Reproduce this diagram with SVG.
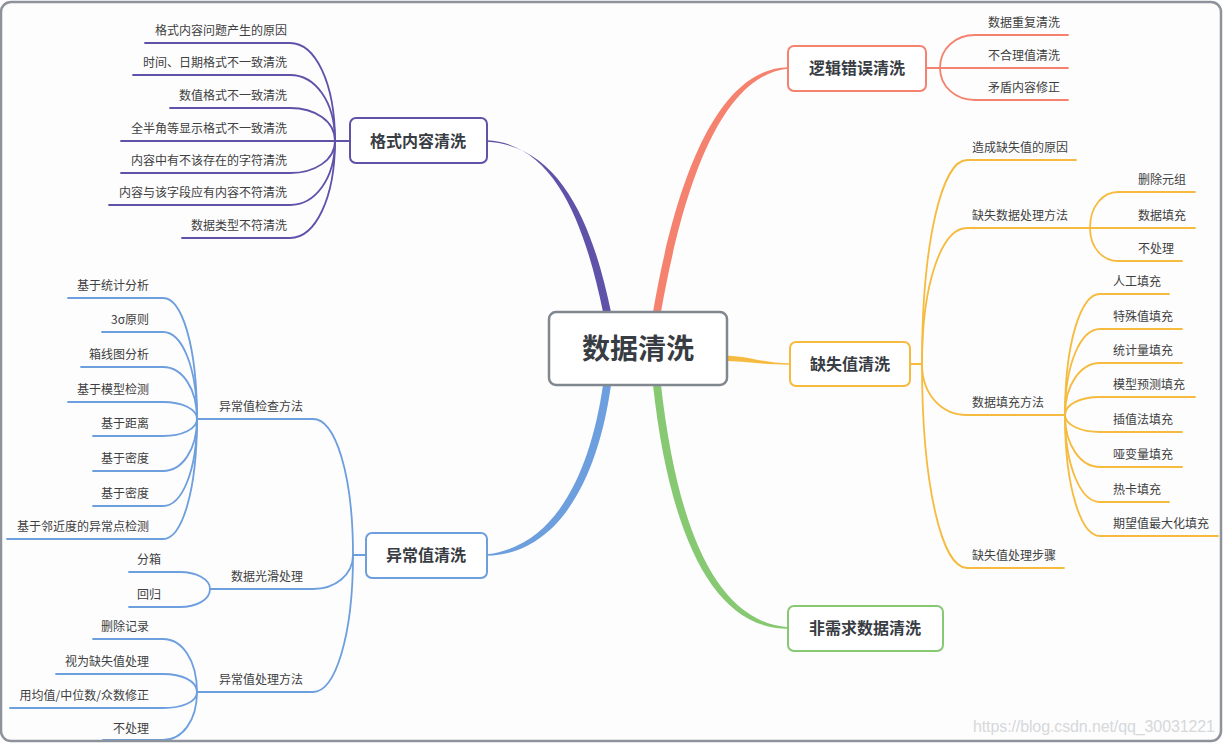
<svg xmlns="http://www.w3.org/2000/svg" width="1224" height="744" viewBox="0 0 1224 744">
<style>
.t{font-family:"Noto Sans CJK SC","Noto Sans",sans-serif;font-size:12px;fill:#404040}
.e{text-anchor:end}
.m{font-family:"Noto Sans CJK SC","Noto Sans",sans-serif;font-size:16px;font-weight:bold;fill:#383c43;text-anchor:middle}
.box{fill:#fff;stroke-width:2}
.c{fill:none;stroke-width:1.8;stroke-linecap:round}
.pu{stroke:#5f52a9}.rd{stroke:#f5826f}.or{stroke:#f6bb3e}.bl{stroke:#6d9edd}.gr{stroke:#87c872}
</style>
<rect x="1" y="2" width="1220" height="739" rx="10" fill="#fdfdfe"/>
<g id="connectors">
<path d="M603,312 C586,230 557,144 487,140.25 L487,141.75 C563,146 594,230 611,312 Z" fill="#5f52a9"/>
<path d="M653,312 C676,178 718,68.5 788,67.25 L788,68.75 C722,75.5 684,182 661,312 Z" fill="#f5826f"/>
<path d="M727,355.5 C752,357 765,363.3 790,363.3 L790,364.7 C765,364.7 752,362 727,361 Z" fill="#f6bb3e"/>
<path d="M603,385 C591,468 558,546 487,554.25 L487,555.75 C562,554 599,472 611,385 Z" fill="#6d9edd"/>
<path d="M653,385 C668,522 708,629 788,628.75 L788,627.25 C712,621 676,518 661,385 Z" fill="#87c872"/>
<g class="c pu">
<path d="M350,141 L335,141"/>
<path d="M335,141 C335,82 315,43 290,43 L145,43"/>
<path d="M335,141 C335,101 315,75 290,75 L133,75"/>
<path d="M335,141 C335,121 315,108 290,108 L170,108"/>
<path d="M335,141 L121,141"/>
<path d="M335,141 C335,160 315,173 290,173 L121,173"/>
<path d="M335,141 C335,179 315,205 290,205 L109,205"/>
<path d="M335,141 C335,199 315,238 290,238 L182,238"/>
</g>
<g class="c rd">
<path d="M926,68 L940,68"/>
<path d="M940,68 C940,48 956,35 975,35 L1068,35"/>
<path d="M940,68 L1068,68"/>
<path d="M940,68 C940,87 956,100 975,100 L1068,100"/>
</g>
<g class="c or">
<path d="M910,364 L922,364"/>
<path d="M922,364 C922,242 942,160 967,160 L1076,160"/>
<path d="M922,364 C922,282 942,228 967,228 L1090,228"/>
<path d="M922,364 C922,395 942,415 967,415 L1065,415"/>
<path d="M922,364 C922,486 942,568 967,568 L1064,568"/>
<path d="M1090,228 C1090,206 1103,192 1118,192 L1195,192"/>
<path d="M1090,228 L1195,228"/>
<path d="M1090,228 C1090,248 1103,261 1118,261 L1182,261"/>
<path d="M1065,415 C1065,342 1081,294 1100,294 L1169,294"/>
<path d="M1065,415 C1065,363 1081,329 1100,329 L1182,329"/>
<path d="M1065,415 C1065,384 1081,363 1100,363 L1182,363"/>
<path d="M1065,415 C1065,404 1081,397 1100,397 L1195,397"/>
<path d="M1065,415 C1065,425 1081,432 1100,432 L1182,432"/>
<path d="M1065,415 C1065,446 1081,467 1100,467 L1182,467"/>
<path d="M1065,415 C1065,467 1081,502 1100,502 L1169,502"/>
<path d="M1065,415 C1065,488 1081,536 1100,536 L1218,536"/>
</g>
<g class="c bl">
<path d="M366,555 L353,555"/>
<path d="M353,555 C353,473 335,419 313,419 L197,419"/>
<path d="M353,555 C353,575 335,589 313,589 L210,589"/>
<path d="M353,555 C353,637 335,692 313,692 L197,692"/>
<path d="M197,419 C197,346 182,298 163,298 L68,298"/>
<path d="M197,419 C197,367 182,332 163,332 L102,332"/>
<path d="M197,419 C197,388 182,367 163,367 L81,367"/>
<path d="M197,419 C197,409 182,402 163,402 L68,402"/>
<path d="M197,419 C197,429 182,436 163,436 L93,436"/>
<path d="M197,419 C197,450 182,471 163,471 L93,471"/>
<path d="M197,419 C197,471 182,506 163,506 L93,506"/>
<path d="M197,419 C197,491 182,539 163,539 L7,539"/>
<path d="M210,589 C210,579 196,572 180,572 L129,572"/>
<path d="M210,589 C210,600 196,607 180,607 L129,607"/>
<path d="M197,692 C197,660 182,639 163,639 L93,639"/>
<path d="M197,692 C197,681 182,674 163,674 L56,674"/>
<path d="M197,692 C197,702 182,708 163,708 L10,708"/>
<path d="M197,692 C197,721 182,740 163,740 L103,740"/>
</g>
</g>
<g id="root">
<rect x="549" y="312" width="178" height="73" rx="7" fill="#fff" stroke="#80878f" stroke-width="2.5"/>
<text x="638" y="359" class="m" style="font-size:28px">数据清洗</text>
</g>
<g id="format">
<rect class="box pu" x="350" y="118" width="137" height="45" rx="6"/>
<text x="418" y="147" class="m">格式内容清洗</text>
</g>
<g id="format-children">
<g id="f1"><text x="287" y="35" class="t e">格式内容问题产生的原因</text></g>
<g id="f2"><text x="287" y="67" class="t e">时间、日期格式不一致清洗</text></g>
<g id="f3"><text x="287" y="100" class="t e">数值格式不一致清洗</text></g>
<g id="f4"><text x="287" y="133" class="t e">全半角等显示格式不一致清洗</text></g>
<g id="f5"><text x="287" y="165" class="t e">内容中有不该存在的字符清洗</text></g>
<g id="f6"><text x="287" y="197" class="t e">内容与该字段应有内容不符清洗</text></g>
<g id="f7"><text x="287" y="230" class="t e">数据类型不符清洗</text></g>
</g>
<g id="logic">
<rect class="box rd" x="788" y="46" width="138" height="45" rx="6"/>
<text x="857" y="74" class="m">逻辑错误清洗</text>
</g>
<g id="logic-children">
<g id="l1"><text x="988" y="27" class="t">数据重复清洗</text></g>
<g id="l2"><text x="988" y="60" class="t">不合理值清洗</text></g>
<g id="l3"><text x="988" y="92" class="t">矛盾内容修正</text></g>
</g>
<g id="missing">
<rect class="box or" x="790" y="342" width="120" height="44" rx="6"/>
<text x="850" y="370" class="m">缺失值清洗</text>
</g>
<g id="missing-children">
<g id="m1"><text x="972" y="152" class="t">造成缺失值的原因</text></g>
<g id="m2"><text x="972" y="220" class="t">缺失数据处理方法</text></g>
<g id="m2a"><text x="1138" y="184" class="t">删除元组</text></g>
<g id="m2b"><text x="1138" y="220" class="t">数据填充</text></g>
<g id="m2c"><text x="1138" y="253" class="t">不处理</text></g>
<g id="m3"><text x="972" y="407" class="t">数据填充方法</text></g>
<g id="m3a"><text x="1113" y="286" class="t">人工填充</text></g>
<g id="m3b"><text x="1113" y="321" class="t">特殊值填充</text></g>
<g id="m3c"><text x="1113" y="355" class="t">统计量填充</text></g>
<g id="m3d"><text x="1113" y="389" class="t">模型预测填充</text></g>
<g id="m3e"><text x="1113" y="424" class="t">插值法填充</text></g>
<g id="m3f"><text x="1113" y="459" class="t">哑变量填充</text></g>
<g id="m3g"><text x="1113" y="494" class="t">热卡填充</text></g>
<g id="m3h"><text x="1113" y="528" class="t">期望值最大化填充</text></g>
<g id="m4"><text x="972" y="560" class="t">缺失值处理步骤</text></g>
</g>
<g id="outlier">
<rect class="box bl" x="366" y="533" width="121" height="45" rx="6"/>
<text x="426" y="561" class="m">异常值清洗</text>
</g>
<g id="outlier-children">
<g id="o1"><text x="303" y="411" class="t e">异常值检查方法</text></g>
<g id="o1a"><text x="149" y="290" class="t e">基于统计分析</text></g>
<g id="o1b"><text x="149" y="324" class="t e">3σ原则</text></g>
<g id="o1c"><text x="149" y="359" class="t e">箱线图分析</text></g>
<g id="o1d"><text x="149" y="394" class="t e">基于模型检测</text></g>
<g id="o1e"><text x="149" y="428" class="t e">基于距离</text></g>
<g id="o1f"><text x="149" y="463" class="t e">基于密度</text></g>
<g id="o1g"><text x="149" y="498" class="t e">基于密度</text></g>
<g id="o1h"><text x="149" y="531" class="t e">基于邻近度的异常点检测</text></g>
<g id="o2"><text x="303" y="581" class="t e">数据光滑处理</text></g>
<g id="o2a"><text x="161" y="564" class="t e">分箱</text></g>
<g id="o2b"><text x="161" y="599" class="t e">回归</text></g>
<g id="o3"><text x="303" y="684" class="t e">异常值处理方法</text></g>
<g id="o3a"><text x="149" y="631" class="t e">删除记录</text></g>
<g id="o3b"><text x="149" y="666" class="t e">视为缺失值处理</text></g>
<g id="o3c"><text x="149" y="700" class="t e">用均值/中位数/众数修正</text></g>
<g id="o3d"><text x="149" y="733" class="t e">不处理</text></g>
</g>
<g id="unneeded">
<rect class="box gr" x="788" y="606" width="155" height="45" rx="6"/>
<text x="865" y="634" class="m">非需求数据清洗</text>
</g>
<text x="973" y="732" font-family="Liberation Sans, sans-serif" font-size="16" fill="#d6d8da" textLength="242">https://blog.csdn.net/qq_30031221</text>
<rect x="1" y="2" width="1220" height="739" rx="10" fill="none" stroke="#8e939b" stroke-width="2.5"/>
</svg>
